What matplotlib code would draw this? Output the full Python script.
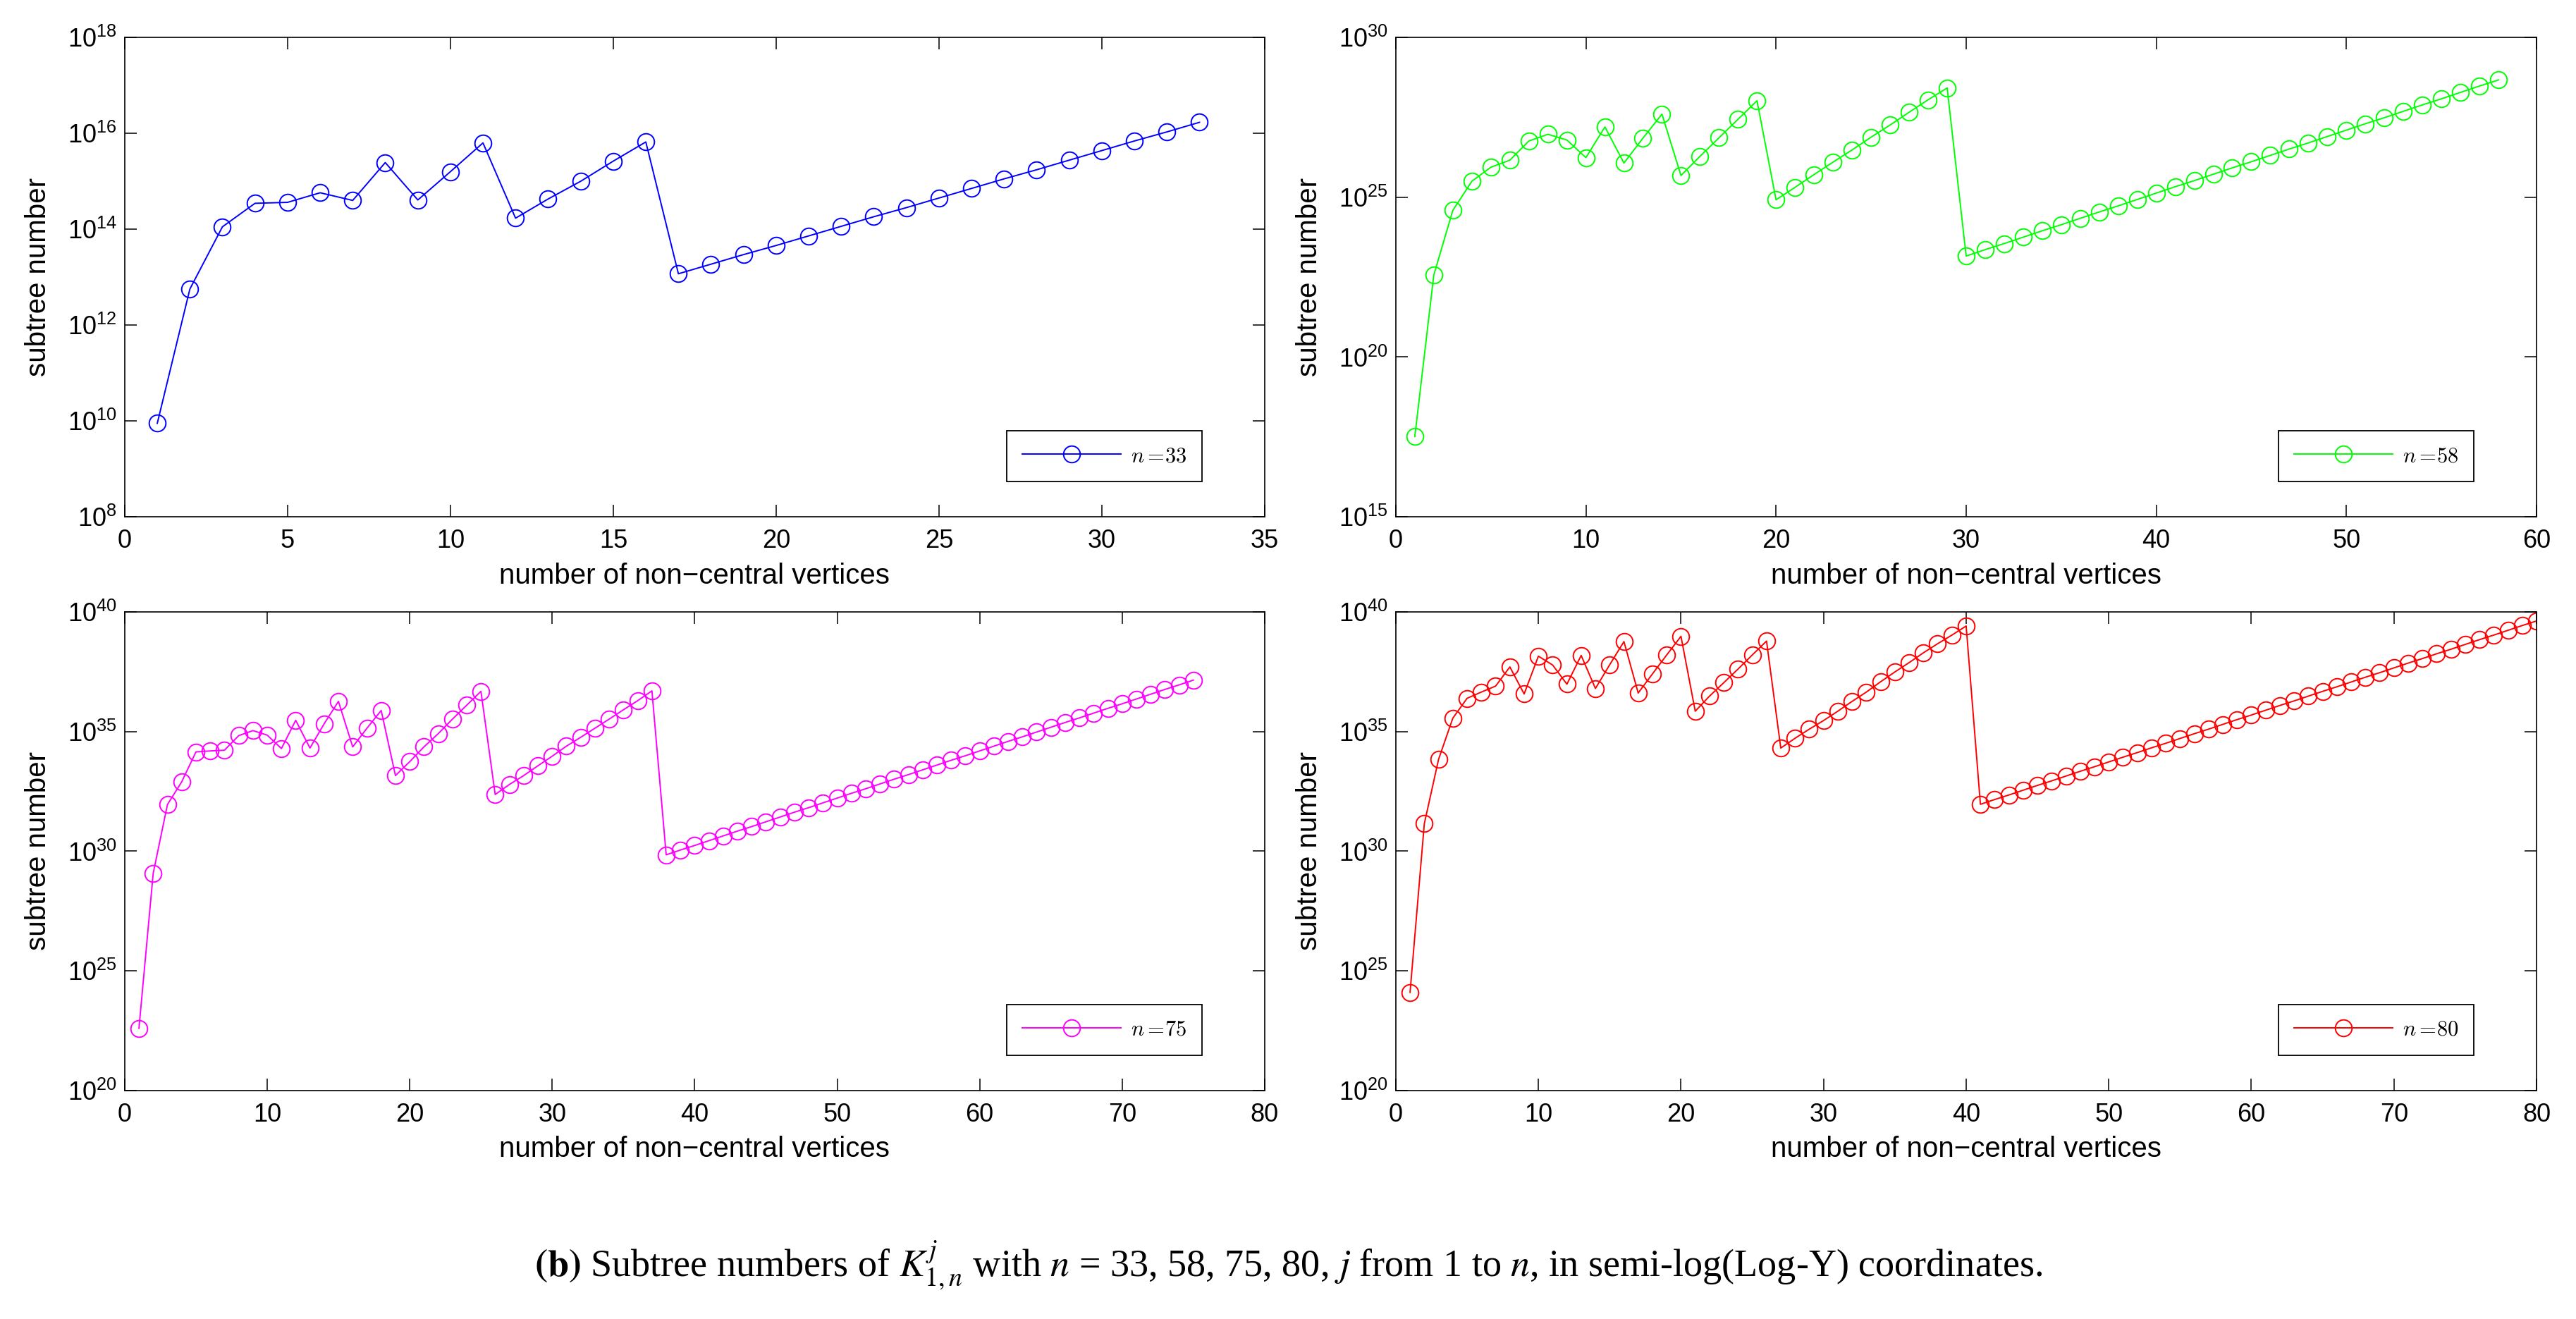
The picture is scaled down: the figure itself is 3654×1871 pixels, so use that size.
import matplotlib
matplotlib.use('Agg')
import matplotlib.pyplot as plt
import numpy as np
from matplotlib.font_manager import FontProperties
from matplotlib.ticker import NullLocator

plt.rcParams['font.family'] = ['Liberation Sans', 'DejaVu Sans']

# log10 of the subtree numbers (index j = 1..n)
exp_33 = [9.95, 12.75, 14.05, 14.54, 14.56, 14.76, 14.60, 15.39, 14.61, 15.20,
          15.80, 14.23, 14.63, 15.00, 15.42, 15.82, 13.07, 13.27, 13.47, 13.66,
          13.86, 14.06, 14.26, 14.45, 14.65, 14.85, 15.05, 15.24, 15.44, 15.64,
          15.84, 16.03, 16.23]

exp_58 = [17.51, 22.57, 24.59, 25.50, 25.94, 26.16, 26.76, 26.97, 26.79, 26.24,
          27.20, 26.07, 26.85, 27.60, 25.68, 26.28, 26.86, 27.44, 28.02, 24.92,
          25.31, 25.71, 26.10, 26.48, 26.88, 27.26, 27.66, 28.05, 28.42, 23.16,
          23.36, 23.55, 23.75, 23.95, 24.14, 24.34, 24.54, 24.73, 24.93, 25.13,
          25.33, 25.52, 25.72, 25.92, 26.11, 26.31, 26.51, 26.70, 26.90, 27.10,
          27.30, 27.49, 27.69, 27.89, 28.08, 28.28, 28.48, 28.67]

exp_75 = [22.60, 29.08, 31.95, 32.90, 34.15, 34.19, 34.22, 34.83, 35.04, 34.85,
          34.29, 35.47, 34.31, 35.33, 36.26, 34.36, 35.14, 35.88, 33.16, 33.74,
          34.36, 34.91, 35.52, 36.10, 36.68, 32.37, 32.79, 33.16, 33.57, 33.97,
          34.39, 34.76, 35.14, 35.52, 35.91, 36.29, 36.70, 29.85, 30.05, 30.24,
          30.44, 30.64, 30.84, 31.03, 31.23, 31.43, 31.63, 31.82, 32.02, 32.22,
          32.42, 32.61, 32.81, 33.01, 33.20, 33.40, 33.60, 33.80, 33.99, 34.19,
          34.39, 34.59, 34.78, 34.98, 35.18, 35.38, 35.57, 35.77, 35.97, 36.16,
          36.36, 36.56, 36.76, 36.95, 37.15]

exp_80 = [24.10, 31.15, 33.84, 35.56, 36.39, 36.65, 36.90, 37.70, 36.57, 38.15,
          37.78, 36.98, 38.18, 36.80, 37.79, 38.76, 36.61, 37.41, 38.20, 38.98,
          35.85, 36.48, 37.04, 37.61, 38.20, 38.78, 34.31, 34.72, 35.10, 35.46,
          35.85, 36.26, 36.65, 37.08, 37.49, 37.88, 38.29, 38.67, 39.03, 39.41,
          31.96, 32.16, 32.35, 32.55, 32.75, 32.94, 33.14, 33.34, 33.53, 33.73,
          33.93, 34.12, 34.32, 34.51, 34.71, 34.91, 35.10, 35.30, 35.50, 35.69,
          35.89, 36.09, 36.28, 36.48, 36.68, 36.87, 37.07, 37.27, 37.46, 37.66,
          37.86, 38.05, 38.25, 38.44, 38.64, 38.84, 39.03, 39.23, 39.43, 39.62]

series = [exp_33, exp_58, exp_75, exp_80]
n_values = [33, 58, 75, 80]
colors = ['#0000ff', '#00ff00', '#ff00ff', '#ff0000']
xlims = [35, 60, 80, 80]
xsteps = [5, 10, 10, 10]
ylims = [(8, 18), (15, 30), (20, 40), (20, 40)]
ysteps = [2, 5, 5, 5]

positions = [
    [0.0484, 0.6082, 0.4424, 0.3634],
    [0.5417, 0.6082, 0.4427, 0.3634],
    [0.0484, 0.1732, 0.4424, 0.3629],
    [0.5417, 0.1732, 0.4427, 0.3629],
]

fig = plt.figure(figsize=(36.55, 18.71), dpi=100)

for i in range(4):
    ax = fig.add_axes(positions[i])
    y = 10.0 ** np.array(series[i])
    x = np.arange(1, len(y) + 1)
    ax.plot(x, y, '-o', color=colors[i], lw=1.4, ms=17, mfc='none',
            mew=1.4, label=r'$n=\!%d$' % n_values[i])
    ax.set_yscale('log')
    ax.set_xlim(0, xlims[i])
    ax.set_xticks(np.arange(0, xlims[i] + 1, xsteps[i]))
    lo, hi = ylims[i]
    ax.set_ylim(10.0 ** lo, 10.0 ** hi)
    ax.set_yticks([10.0 ** k for k in range(lo, hi + 1, ysteps[i])])
    ax.yaxis.set_minor_locator(NullLocator())
    ax.tick_params(which='both', direction='in', top=True, right=True,
                   length=12, width=1.1, labelsize=26)
    ax.tick_params(axis='x', pad=12)
    ax.tick_params(axis='y', pad=8)
    for s in ax.spines.values():
        s.set_linewidth(1.2)
    ax.set_xlabel('number of non\u2212central vertices', fontsize=29)
    ax.set_ylabel('subtree number', fontsize=29)
    ax.xaxis.set_label_coords(0.5, -0.095)
    ax.yaxis.set_label_coords(-0.064, 0.5)
    leg = ax.legend(loc='lower right', bbox_to_anchor=(0.945, 0.073),
                    borderaxespad=0, fancybox=False, edgecolor='black',
                    framealpha=1, borderpad=0.7, handlelength=4.6,
                    handletextpad=0.45,
                    prop=FontProperties(size=22, math_fontfamily='cm'))
    leg.get_frame().set_linewidth(1.3)

caption = (r'$\mathbf{(b)}$ Subtree numbers of $K_{1,n}^{j}$ with $n$ = 33, 58, 75, 80, '
           r'$j$ from 1 to $n$, in semi-log(Log-Y) coordinates.')
fig.text(0.5, 0.0406, caption, ha='center', va='center', fontsize=39,
         family='Liberation Serif', math_fontfamily='stix')

fig.savefig('out.png', dpi=100)
